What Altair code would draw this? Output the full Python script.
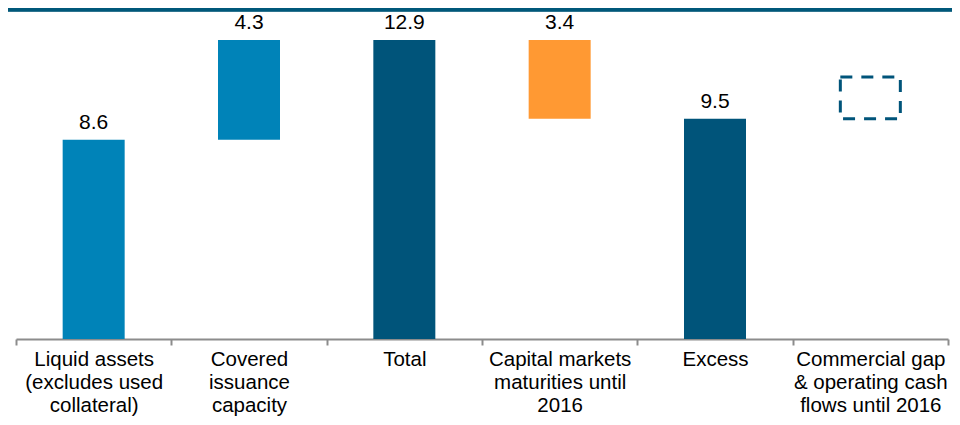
import altair as alt
import pandas as pd

categories = [
    "Liquid assets|(excludes used|collateral)",
    "Covered|issuance|capacity",
    "Total",
    "Capital markets|maturities until|2016",
    "Excess",
    "Commercial gap|& operating cash|flows until 2016",
]
starts = [0, 8.6, 0, 9.5, 0, 9.5]
ends = [8.6, 12.9, 12.9, 12.9, 9.5, 11.3]
labels = ["8.6", "4.3", "12.9", "3.4", "9.5", ""]
kinds = ["liquid", "covered", "total", "maturity", "excess", "gap"]

kind_domain = ["liquid", "covered", "total", "maturity", "excess"]
kind_colors = ["#0083B8", "#0083B8", "#00547A", "#FF9933", "#00547A"]

df = pd.DataFrame({
    "cat": categories,
    "start": starts,
    "end": ends,
    "label": labels,
    "kind": kinds,
})

FONT = "Liberation Sans"

x = alt.X(
    "cat:N",
    sort=categories,
    title=None,
    scale=alt.Scale(paddingInner=0, paddingOuter=0),
    axis=alt.Axis(
        labelExpr="split(datum.label, '|')",
        labelAngle=0,
        labelFont=FONT,
        labelFontSize=20.5,
        labelLineHeight=23,
        labelColor="#000000",
        labelPadding=4,
        labelLimit=300,
        tickBand="extent",
        tickSize=6,
        tickWidth=2,
        tickColor="#8C8C8C",
        domainColor="#8C8C8C",
        domainWidth=2,
        grid=False,
    ),
)
yscale = alt.Scale(domain=[0, 14.28], nice=False, zero=True)

base = alt.Chart(df)

bars = base.transform_filter("datum.kind != 'gap'").mark_bar(size=62).encode(
    x=x,
    y=alt.Y("start:Q", scale=yscale, axis=None),
    y2="end:Q",
    color=alt.Color("kind:N", scale=alt.Scale(domain=kind_domain, range=kind_colors), legend=None),
)

gap = base.transform_filter("datum.kind == 'gap'").mark_bar(
    size=60, fillOpacity=0, stroke="#00547A", strokeWidth=3, strokeDash=[12, 9]
).encode(
    x=x,
    y=alt.Y("start:Q", scale=yscale, axis=None),
    y2="end:Q",
)

text = base.mark_text(
    dy=-11, baseline="alphabetic", fontSize=21, font=FONT, color="#000000"
).encode(
    x=x,
    y=alt.Y("end:Q", scale=yscale, axis=None),
    text="label:N",
)

top_rule = base.mark_rule(color="#00587A", strokeWidth=3.5).encode(
    x=alt.value(-8), x2=alt.value(936), y=alt.value(1.5)
)

chart = alt.layer(bars, gap, text, top_rule).properties(
    width=932,
    height=331,
    autosize=alt.AutoSizeParams(type="none"),
    padding={"left": 8, "top": 0, "right": 4, "bottom": 78},
).configure_view(strokeWidth=0)

chart.save("out.html", embed_options={"renderer": "svg", "actions": False})
